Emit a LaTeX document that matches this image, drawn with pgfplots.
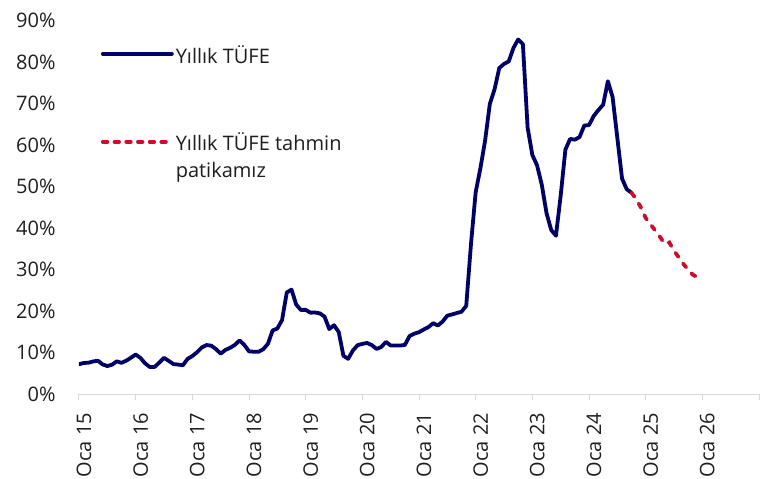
\documentclass[border=0pt]{standalone}
\usepackage{pgfplots}
\pgfplotsset{compat=1.18}
\usepackage{fontspec}
\setmainfont{Open Sans}
\definecolor{navy}{RGB}{0,0,102}
\definecolor{fred}{RGB}{200,16,46}
\definecolor{axgray}{RGB}{217,217,217}
\definecolor{txt}{RGB}{30,30,30}
\begin{document}
\begin{tikzpicture}[x=1pt,y=1pt]
\path[use as bounding box] (-79,-84.7) rectangle (682,394.3);
\begin{axis}[
 at={(0,0)}, anchor=south west,
 scale only axis, width=680pt, height=373.5pt,
 xmin=0, xmax=144, ymin=0, ymax=90,
 axis x line*=bottom, axis y line*=left,
 x axis line style={draw=axgray, line width=1pt, -},
 y axis line style={draw=none},
 xtick={0,12,...,144},
 xticklabels={Oca 15,Oca 16,Oca 17,Oca 18,Oca 19,Oca 20,Oca 21,Oca 22,Oca 23,Oca 24,Oca 25,Oca 26,{}},
 ytick={0,10,...,90},
 yticklabels={0\%,10\%,20\%,30\%,40\%,50\%,60\%,70\%,80\%,90\%},
 tick align=outside,
 major tick length=6pt,
 xtick style={draw=axgray, line width=1pt},
 ytick style={draw=none},
 xticklabel shift=9pt,
 xticklabel style={rotate=90, anchor=east, yshift=-5pt, font=\fontsize{20}{24}\selectfont, text=txt},
 yticklabel style={anchor=east, xshift=-14pt, font=\fontsize{20}{24}\selectfont, text=txt},
 legend image code/.code={\draw[#1] (0pt,1.3pt) -- (69pt,1.3pt);},
 legend style={draw=none, fill=none, at={(0.032,0.94)}, anchor=north west,
   font=\fontsize{20}{26.7}\selectfont, text=txt, row sep=64pt, inner sep=0pt,
   cells={anchor=base west, align=left},
   /tikz/every even column/.append style={column sep=6pt}},
 legend cell align=left,
]
\addplot[navy, line width=3.8pt, line join=round, line cap=round] coordinates {
(0,7.24)(1,7.55)(2,7.61)(3,7.91)(4,8.09)(5,7.20)(6,6.81)(7,7.14)(8,7.95)(9,7.58)(10,8.10)(11,8.81)
(12,9.58)(13,8.78)(14,7.46)(15,6.57)(16,6.58)(17,7.64)(18,8.79)(19,8.05)(20,7.28)(21,7.16)(22,7.00)(23,8.53)
(24,9.22)(25,10.13)(26,11.29)(27,11.87)(28,11.72)(29,10.90)(30,9.79)(31,10.68)(32,11.20)(33,11.90)(34,12.98)(35,11.92)
(36,10.35)(37,10.26)(38,10.23)(39,10.85)(40,12.15)(41,15.39)(42,15.85)(43,17.90)(44,24.52)(45,25.24)(46,21.62)(47,20.30)
(48,20.35)(49,19.67)(50,19.71)(51,19.50)(52,18.71)(53,15.72)(54,16.65)(55,15.01)(56,9.26)(57,8.55)(58,10.56)(59,11.84)
(60,12.15)(61,12.37)(62,11.86)(63,10.94)(64,11.39)(65,12.62)(66,11.76)(67,11.77)(68,11.75)(69,11.89)(70,14.03)(71,14.60)
(72,14.97)(73,15.61)(74,16.19)(75,17.14)(76,16.59)(77,17.53)(78,18.95)(79,19.25)(80,19.58)(81,19.89)(82,21.31)(83,36.08)
(84,48.69)(85,54.44)(86,61.14)(87,69.97)(88,73.50)(89,78.62)(90,79.60)(91,80.21)(92,83.45)(93,85.51)(94,84.39)(95,64.27)
(96,57.68)(97,55.18)(98,50.51)(99,43.68)(100,39.59)(101,38.21)(102,47.83)(103,58.94)(104,61.53)(105,61.36)(106,61.98)(107,64.77)
(108,64.86)(109,67.07)(110,68.50)(111,69.80)(112,75.45)(113,71.60)(114,61.78)(115,51.97)(116,49.38)(117,48.58)
};
\addlegendentry{Yıllık TÜFE}
\addplot[fred, line width=3.8pt, line cap=round, dash pattern=on 5pt off 8pt,
  legend image code/.code={\draw[fred, line width=3.8pt, line cap=round, dash pattern=on 4.5pt off 7.2pt] (0pt,14pt) -- (69pt,14pt);}] coordinates {
(117,48.58)(118,47.0)(119,45.0)(120,42.5)(121,41.0)(122,39.5)(123,38.0)(124,36.3)(125,36.6)(126,34.6)(127,33.0)(128,31.4)(129,30.0)(130,28.8)(131,28.2)
};
\addlegendentry{Yıllık TÜFE tahmin\\patikamız}
\end{axis}
\end{tikzpicture}
\end{document}
